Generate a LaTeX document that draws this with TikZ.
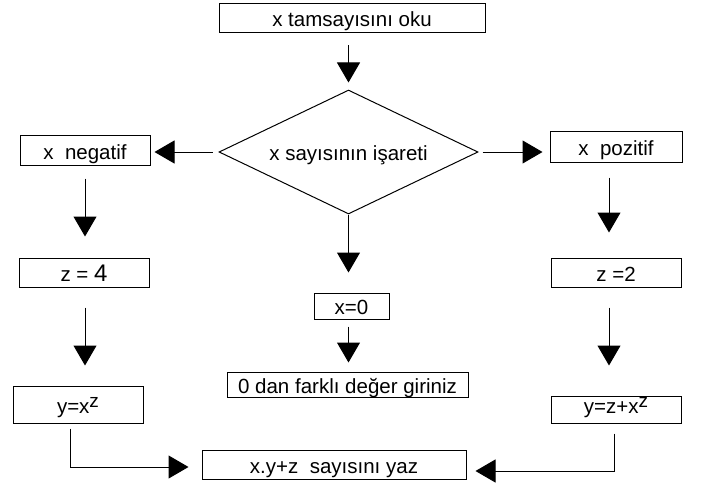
\documentclass[tikz,border=0pt]{standalone}
\usepackage{fontspec}
\setmainfont{Liberation Sans}
\usetikzlibrary{arrows.meta,shapes.geometric}

\tikzset{
  kutu/.style={draw,rectangle,line width=1pt,inner sep=0pt,
    text height=17pt,text depth=0pt,
    font=\fontsize{20.5}{24}\selectfont},
  karar/.style={draw,diamond,line width=1pt,inner sep=0pt,
    text height=16pt,text depth=0pt,
    font=\fontsize{20.5}{24}\selectfont},
  ok/.style={line width=1pt,-{Triangle[width=23pt,length=20pt]}}
}
\newcommand{\ustz}{\raisebox{6pt}{\fontsize{19}{19}\selectfont z}}

\begin{document}
\begin{tikzpicture}[x=1pt,y=-1pt]
\useasboundingbox (0,0) rectangle (701,484);
\node[kutu,minimum width=266pt,minimum height=29pt] (oku) at (352,18.5) {x tamsayısını oku};
\node[karar,minimum width=259pt,minimum height=124pt,shape aspect=2.1] (isaret) at (348.5,152) {x sayısının işareti};
\node[kutu,minimum width=130pt,minimum height=29pt] (negatif) at (85,150.5) {x\ \ negatif};
\node[kutu,minimum width=132pt,minimum height=30pt] (pozitif) at (616,147) {x\ \ pozitif};
\node[kutu,minimum width=130pt,minimum height=29pt] (zdort) at (84,272.5) {z = {\fontsize{24}{24}\selectfont 4}};
\node[kutu,minimum width=130pt,minimum height=29pt] (ziki) at (616,272.5) {z =2};
\node[kutu,minimum width=130pt,minimum height=37pt] (yxz) at (78,404.5) {y=x\ustz};
\node[kutu,minimum width=130pt,minimum height=27pt,text height=10pt,text depth=3pt] (yzx) at (616,409.5) {y=z+x\ustz};
\node[kutu,minimum width=75pt,minimum height=26pt] (sifir) at (351.5,306) {x=0};
\node[kutu,minimum width=241pt,minimum height=25pt] (farkli) at (347.5,384.5) {0 dan farklı değer giriniz};
\node[kutu,minimum width=264pt,minimum height=29pt] (yaz) at (334,464.5) {x.y+z\ \ sayısını yaz};

\draw[ok,shorten <=12pt,shorten >=7pt] (isaret.north |- oku.south) -- (isaret.north);
\draw[ok,shorten <=6pt,shorten >=4pt] (isaret.west) -- (isaret.west -| negatif.east);
\draw[ok,shorten <=4pt,shorten >=7pt] (isaret.east) -- (isaret.east -| pozitif.west);
\draw[ok,shorten >=20pt] (isaret.south) -- (isaret.south |- sifir.north);
\draw[ok,shorten <=7pt,shorten >=9pt] (isaret.south |- sifir.south) -- (isaret.south |- farkli.north);

\draw[ok,shorten <=13pt,shorten >=21pt] (negatif.south) -- (negatif.south |- zdort.north);
\draw[ok,shorten <=20pt,shorten >=20pt] (negatif.south |- zdort.south) -- (negatif.south |- yxz.north);
\draw[ok,shorten <=15pt,shorten >=25pt] ([xshift=-7pt]pozitif.south) -- ([xshift=-7pt]pozitif.south |- ziki.north);
\draw[ok,shorten <=20pt,shorten >=30pt] ([xshift=-7pt]pozitif.south |- ziki.south) -- ([xshift=-7pt]pozitif.south |- yzx.north);

\draw[ok,shorten <=5pt,shorten >=13pt] ([xshift=-8pt]yxz.south) |- ([yshift=-2.5pt]yaz.west);
\draw[ok,shorten <=10pt,shorten >=9pt] ([xshift=-2pt]yzx.south) |- ([yshift=-6.5pt]yaz.east);
\end{tikzpicture}
\end{document}
